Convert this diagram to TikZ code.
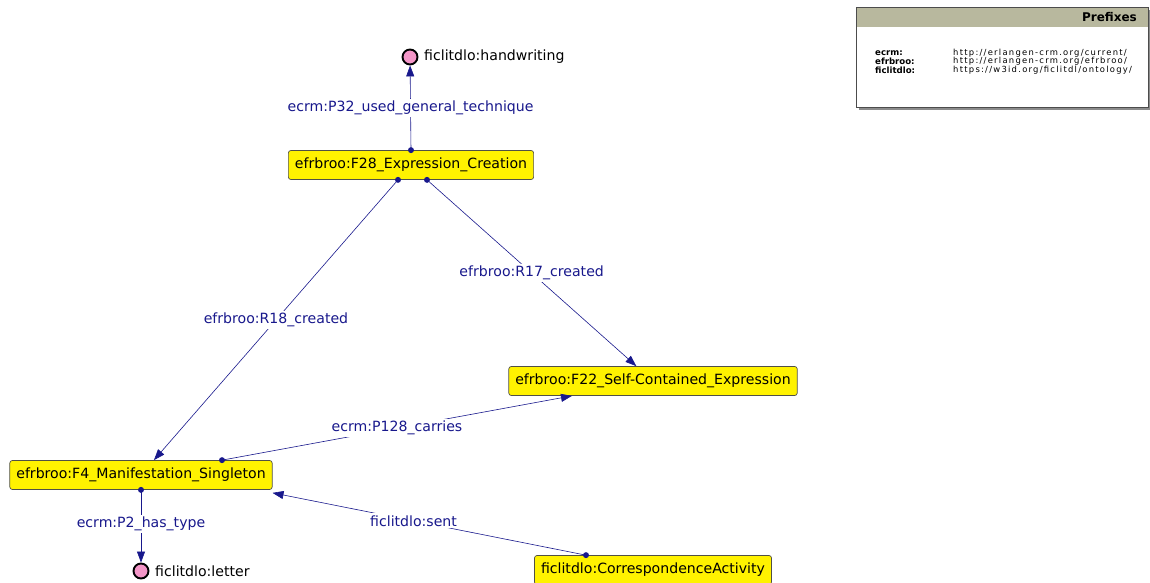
\documentclass[tikz,border=0pt]{standalone}
\usepackage{fontspec}
\setmainfont{DejaVu Sans}
\usetikzlibrary{arrows.meta,positioning}
\definecolor{edgeblue}{RGB}{24,24,140}
\definecolor{nodeborder}{RGB}{80,80,70}
\definecolor{indpink}{RGB}{244,150,200}
\definecolor{prefixhead}{RGB}{184,184,158}
\tikzset{
  classbox/.style={draw=nodeborder, fill=yellow, rounded corners=2.5pt, line width=0.7pt,
    minimum height=29pt, inner xsep=6.5pt, font=\fontsize{14.1}{16}\selectfont},
  indiv/.style={circle, draw=black, fill=indpink, line width=1.9pt, minimum size=15pt, inner sep=0pt},
  indlabel/.style={font=\fontsize{14.1}{16}\selectfont, anchor=west, inner sep=0pt},
  rel/.style={draw=edgeblue, line width=0.6pt, -{Triangle[length=11pt,width=8pt]}},
  rellabel/.style={fill=white, text=edgeblue, inner sep=2pt, font=\fontsize{14.1}{16}\selectfont},
  dot/.style={fill=edgeblue},
  pfx/.style={font=\fontsize{8.4}{9}\selectfont\addfontfeature{LetterSpace=15}, anchor=west, inner sep=0pt},
  pfxkey/.style={font=\fontsize{8.6}{9}\selectfont\bfseries, anchor=west, inner sep=0pt},
}
\begin{document}
\begin{tikzpicture}[x=1pt,y=-1pt]
\useasboundingbox (0,0) rectangle (1150,583);

% class nodes
\node[classbox] (f28) at (411,165) {efrbroo:F28\_Expression\_Creation};
\node[classbox] (f22) at (653,381) {efrbroo:F22\_Self-Contained\_Expression};
\node[classbox] (f4)  at (141,475) {efrbroo:F4\_Manifestation\_Singleton};
\node[classbox] (corr) at (653,570) {ficlitdlo:CorrespondenceActivity};

% individuals
\node[indiv] (hand) at (410,57) {};
\node[indlabel] (handlbl) at (424,57) {ficlitdlo:handwriting};
\node[indiv] (letter) at (141,571) {};
\node[indlabel] (letterlbl) at (155,571) {ficlitdlo:letter};

% edge start points
\coordinate (s32)  at (f28.north);
\coordinate (s18)  at ([xshift=-13pt]f28.south);
\coordinate (s17)  at ([xshift=16pt]f28.south);
\coordinate (s128) at ([xshift=81pt]f4.north);
\coordinate (s2)   at (f4.south);
\coordinate (ssent) at ([xshift=-67pt]corr.north);
\coordinate (esent) at ([yshift=-3pt]f4.south east);
\coordinate (e128) at ([xshift=-81pt]f22.south);

% relations
\draw[rel] (s32) -- (hand) node[midway, rellabel] (l32) {ecrm:P32\_used\_general\_technique};
\draw[rel] (s18) -- (f4) node[midway, rellabel] (l18) {efrbroo:R18\_created};
\draw[rel] (s17) -- (f22) node[midway, rellabel] (l17) {efrbroo:R17\_created};
\draw[rel] (s128) -- (e128) node[midway, rellabel] (l128) {ecrm:P128\_carries};
\draw[rel] (ssent) -- (esent) node[pos=0.55, rellabel] (lsent) {ficlitdlo:sent};
\draw[rel] (s2) -- (letter) node[pos=0.47, rellabel] (l2) {ecrm:P2\_has\_type};

\foreach \p in {s32,s18,s17,s128,s2,ssent}
  \fill[dot] (\p) circle (3pt);

% prefix legend
\fill[black!45] (859,10) rectangle (1150,110);
\draw[fill=white, draw=black!70, line width=0.6pt] (856,7) rectangle (1148,107);
\fill[prefixhead] (856.3,7.3) rectangle (1147.7,27);
\draw[draw=black!70, line width=0.6pt] (856,7) rectangle (1148,107);
\node[font=\fontsize{12}{14}\selectfont\bfseries, anchor=east, inner sep=0pt] (ptitle) at (1137,17) {Prefixes};
\node[pfxkey] (k1) at (875,53) {ecrm:};
\node[pfxkey] (k2) at (875,61.5) {efrbroo:};
\node[pfxkey] (k3) at (875,70) {ficlitdlo:};
\node[pfx] (v1) at (953,53) {http://erlangen-crm.org/current/};
\node[pfx] (v2) at (953,61.5) {http://erlangen-crm.org/efrbroo/};
\node[pfx] (v3) at (953,70) {https://w3id.org/ficlitdl/ontology/};
\end{tikzpicture}
\end{document}
